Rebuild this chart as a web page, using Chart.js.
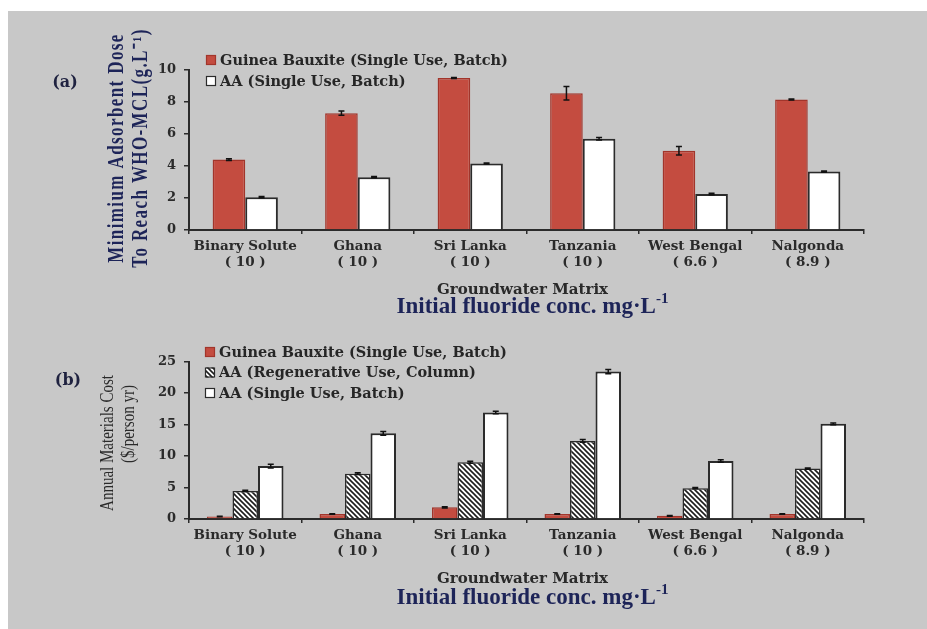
<!DOCTYPE html>
<html>
<head>
<meta charset="utf-8">
<script src="https://cdn.jsdelivr.net/npm/chart.js@4.4.1/dist/chart.umd.min.js"></script>
<style>
  html, body { margin: 0; padding: 0; background: #ffffff; }
  #wrap { position: relative; width: 927px; height: 629px; overflow: hidden; }
  #panel { position: absolute; left: 8px; top: 11px; right: 0; bottom: 0; background: #c8c8c8; }
  canvas { position: absolute; left: 0; }
  #doseChart { top: 0; }
  #costChart { top: 320px; }
</style>
</head>
<body>
<div id="wrap">
  <div id="panel"></div>
  <canvas id="doseChart" width="927" height="320"></canvas>
  <canvas id="costChart" width="927" height="309"></canvas>
</div>
<script>
// Groundwater matrices with their initial fluoride concentration (mg/L)
const categories = [
  ["Binary Solute", "( 10 )"],
  ["Ghana", "( 10 )"],
  ["Sri Lanka", "( 10 )"],
  ["Tanzania", "( 10 )"],
  ["West Bengal", "( 6.6 )"],
  ["Nalgonda", "( 8.9 )"]
];

// (a) Minimum adsorbent dose to reach WHO-MCL (g/L)
const doseBauxite = [4.4, 7.3, 9.5, 8.55, 4.95, 8.15];
const doseBauxiteErr = [0.05, 0.13, 0.03, 0.42, 0.27, 0.03];
const doseAA = [2.05, 3.3, 4.15, 5.7, 2.25, 3.65];
const doseAAErr = [0.04, 0.04, 0.03, 0.08, 0.04, 0.04];
const doseTicks = [0, 2, 4, 6, 8, 10];

// (b) Annual materials cost ($/person yr)
const costBauxite = [0.4, 0.8, 1.85, 0.8, 0.5, 0.8];
const costBauxiteErr = [0.05, 0.05, 0.1, 0.05, 0.05, 0.05];
const costAARegen = [4.45, 7.2, 9.0, 12.4, 4.9, 8.0];
const costAARegenErr = [0.1, 0.15, 0.15, 0.2, 0.1, 0.1];
const costAASingle = [8.4, 13.6, 16.9, 23.4, 9.2, 15.1];
const costAASingleErr = [0.3, 0.3, 0.2, 0.35, 0.2, 0.15];
const costTicks = [0, 5, 10, 15, 20, 25];

const seriesNames = {
  bauxite: "Guinea Bauxite (Single Use, Batch)",
  aaRegen: "AA (Regenerative Use, Column)",
  aaSingle: "AA (Single Use, Batch)"
};

const RED = "#c44c40";
const RED_EDGE = "#a2352b";
const INK = "#2b2b2b";
const NAVY = "#1d2458";
const TICK_FONT = { family: "'DejaVu Serif'", size: 13, weight: "bold" };
const CAT_FONT = { family: "'DejaVu Serif'", size: 13.5, weight: "bold", lineHeight: 1.2 };

// diagonal hatch used for the regenerative-use bars
function makeHatch() {
  const c = document.createElement("canvas");
  c.width = 5; c.height = 5;
  const g = c.getContext("2d");
  g.fillStyle = "#ffffff";
  g.fillRect(0, 0, 5, 5);
  g.strokeStyle = "#1e1e1e";
  g.lineWidth = 1.6;
  g.beginPath();
  g.moveTo(-1, -1); g.lineTo(6, 6);
  g.moveTo(-1, 4); g.lineTo(1, 6);
  g.moveTo(4, -1); g.lineTo(6, 1);
  g.stroke();
  return document.getElementById("costChart").getContext("2d").createPattern(c, "repeat");
}

// vertical error bars with caps drawn at each bar centre
const errorBars = {
  id: "errorBars",
  afterDatasetsDraw(chart, args, opts) {
    const ctx = chart.ctx;
    const y = chart.scales.y;
    chart.data.datasets.forEach((ds, di) => {
      if (!ds.errors) return;
      const meta = chart.getDatasetMeta(di);
      meta.data.forEach((bar, i) => {
        const v = ds.data[i], e = ds.errors[i];
        const top = y.getPixelForValue(v + e);
        const bot = y.getPixelForValue(v - e);
        ctx.save();
        ctx.strokeStyle = opts.color;
        ctx.lineWidth = opts.width;
        ctx.beginPath();
        ctx.moveTo(bar.x, top); ctx.lineTo(bar.x, bot);
        ctx.moveTo(bar.x - opts.cap, top); ctx.lineTo(bar.x + opts.cap, top);
        ctx.moveTo(bar.x - opts.cap, bot); ctx.lineTo(bar.x + opts.cap, bot);
        ctx.stroke();
        ctx.restore();
      });
    });
  }
};

// panel tag, legend and axis titles
const decor = {
  id: "decor",
  afterDraw(chart, args, o) {
    const ctx = chart.ctx;
    const area = chart.chartArea;

    ctx.save();
    ctx.font = o.tagFont;
    ctx.fillStyle = o.tagColor;
    ctx.textAlign = "center";
    ctx.textBaseline = "middle";
    ctx.fillText(o.tag, o.tagX, o.tagY);
    ctx.restore();

    // legend
    chart.data.datasets.forEach((ds, i) => {
      const ry = o.legendY[i];
      ctx.save();
      ctx.fillStyle = ds.backgroundColor;
      ctx.fillRect(o.legendX, ry - 5, 10, 10);
      ctx.strokeStyle = ds.borderColor;
      ctx.lineWidth = 1.2;
      ctx.strokeRect(o.legendX + 0.5, ry - 4.5, 9, 9);
      ctx.font = o.legendFont;
      ctx.fillStyle = "#262626";
      ctx.textAlign = "left";
      ctx.textBaseline = "middle";
      ctx.fillText(ds.label, o.legendX + 14, ry + 1);
      ctx.restore();
    });

    // rotated y-axis title lines, widened across the reading direction
    o.yTitle.forEach((line, k) => {
      ctx.save();
      ctx.translate(o.yTitleX[k], o.yTitleY[k]);
      ctx.rotate(-Math.PI / 2);
      ctx.scale(1, o.yTitleStretch);
      ctx.font = o.yTitleFont;
      if ("letterSpacing" in ctx) ctx.letterSpacing = o.yTitleSpacing;
      ctx.fillStyle = o.yTitleColor;
      ctx.textAlign = "center";
      ctx.textBaseline = "middle";
      ctx.fillText(line, 0, 0);
      ctx.restore();
    });

    // x-axis titles
    const cx = (area.left + area.right) / 2;
    ctx.save();
    ctx.font = "bold 15px 'DejaVu Serif'";
    ctx.fillStyle = "#2a2a2a";
    ctx.textAlign = "center";
    ctx.textBaseline = "middle";
    ctx.fillText("Groundwater Matrix", cx - 4, o.xTitleY);
    ctx.restore();

    ctx.save();
    const main = "Initial fluoride conc. mg\u00b7L";
    const sup = "-1";
    ctx.font = "bold 23px 'Liberation Serif'";
    const w1 = ctx.measureText(main).width;
    ctx.font = "bold 15px 'Liberation Serif'";
    const w2 = ctx.measureText(sup).width;
    const x0 = cx + 6 - (w1 + w2) / 2;
    ctx.fillStyle = NAVY;
    ctx.textAlign = "left";
    ctx.textBaseline = "alphabetic";
    ctx.font = "bold 23px 'Liberation Serif'";
    ctx.fillText(main, x0, o.unitY);
    ctx.font = "bold 15px 'Liberation Serif'";
    ctx.fillText(sup, x0 + w1, o.unitY - 10);
    ctx.restore();
  }
};

function yAxis(ticksList, width) {
  const maxVal = ticksList[ticksList.length - 1];
  return {
    min: 0, max: maxVal,
    afterFit(s) { s.width = width; },
    afterBuildTicks(s) { s.ticks = ticksList.map(v => ({ value: v })); },
    ticks: { font: TICK_FONT, color: "#2a2a2a", padding: 8 },
    grid: { display: true, drawOnChartArea: false, drawTicks: true, tickLength: 5, color: INK, lineWidth: 1.5 },
    border: { display: true, color: INK, width: 2 }
  };
}

function xAxis(height) {
  return {
    afterFit(s) { s.height = height; },
    ticks: { font: CAT_FONT, color: "#2a2a2a", padding: 4, autoSkip: false, maxRotation: 0 },
    grid: { display: true, offset: true, drawOnChartArea: false, drawTicks: true, tickLength: 4, color: INK, lineWidth: 1.5 },
    border: { display: true, color: INK, width: 2 }
  };
}

// (a) adsorbent dose
new Chart(document.getElementById("doseChart"), {
  type: "bar",
  data: {
    labels: categories,
    datasets: [
      { label: seriesNames.bauxite, data: doseBauxite, errors: doseBauxiteErr,
        backgroundColor: RED, borderColor: RED_EDGE, borderWidth: 1.5 },
      { label: seriesNames.aaSingle, data: doseAA, errors: doseAAErr,
        backgroundColor: "#ffffff", borderColor: INK, borderWidth: 2 }
    ]
  },
  options: {
    responsive: false, animation: false, devicePixelRatio: 1,
    categoryPercentage: 0.58, barPercentage: 1.0,
    layout: { padding: { left: 0, right: 63, top: 70, bottom: 0 } },
    scales: { x: xAxis(90), y: yAxis(doseTicks, 189) },
    plugins: {
      legend: { display: false }, tooltip: { enabled: false },
      errorBars: { color: "#111111", width: 1.5, cap: 3 },
      decor: {
        tag: "(a)", tagX: 65, tagY: 83, tagFont: "bold 16px 'DejaVu Serif'", tagColor: "#1f2240",
        legendX: 206, legendY: [60, 81], legendFont: "bold 14.5px 'DejaVu Serif'",
        yTitle: ["Minimium Adsorbent Dose", "To Reach WHO-MCL(g.L\u207b\u00b9)"],
        yTitleX: [117, 141], yTitleY: [148, 148], yTitleStretch: 1.3,
        yTitleFont: "bold 17px 'Liberation Serif'", yTitleSpacing: "1.4px", yTitleColor: NAVY,
        xTitleY: 290, unitY: 313
      }
    }
  },
  plugins: [errorBars, decor]
});

// (b) annual materials cost
new Chart(document.getElementById("costChart"), {
  type: "bar",
  data: {
    labels: categories,
    datasets: [
      { label: seriesNames.bauxite, data: costBauxite, errors: costBauxiteErr,
        backgroundColor: RED, borderColor: RED_EDGE, borderWidth: 1.5 },
      { label: seriesNames.aaRegen, data: costAARegen, errors: costAARegenErr,
        backgroundColor: makeHatch(), borderColor: INK, borderWidth: 1.5 },
      { label: seriesNames.aaSingle, data: costAASingle, errors: costAASingleErr,
        backgroundColor: "#ffffff", borderColor: INK, borderWidth: 2 }
    ]
  },
  options: {
    responsive: false, animation: false, devicePixelRatio: 1,
    categoryPercentage: 0.68, barPercentage: 1.0,
    layout: { padding: { left: 0, right: 63, top: 41.5, bottom: 0 } },
    scales: { x: xAxis(110), y: yAxis(costTicks, 189) },
    plugins: {
      legend: { display: false }, tooltip: { enabled: false },
      errorBars: { color: "#111111", width: 1.5, cap: 3 },
      decor: {
        tag: "(b)", tagX: 68, tagY: 61, tagFont: "bold 16px 'DejaVu Serif'", tagColor: "#1f2240",
        legendX: 205, legendY: [32, 52.5, 73], legendFont: "bold 14.5px 'DejaVu Serif'",
        yTitle: ["Annual Materials Cost", "($/person yr)"],
        yTitleX: [108, 129], yTitleY: [123, 104], yTitleStretch: 1.3,
        yTitleFont: "15px 'Liberation Serif'", yTitleSpacing: "0px", yTitleColor: "#2a2a2a",
        xTitleY: 259, unitY: 284
      }
    }
  },
  plugins: [errorBars, decor]
});
</script>
</body>
</html>
